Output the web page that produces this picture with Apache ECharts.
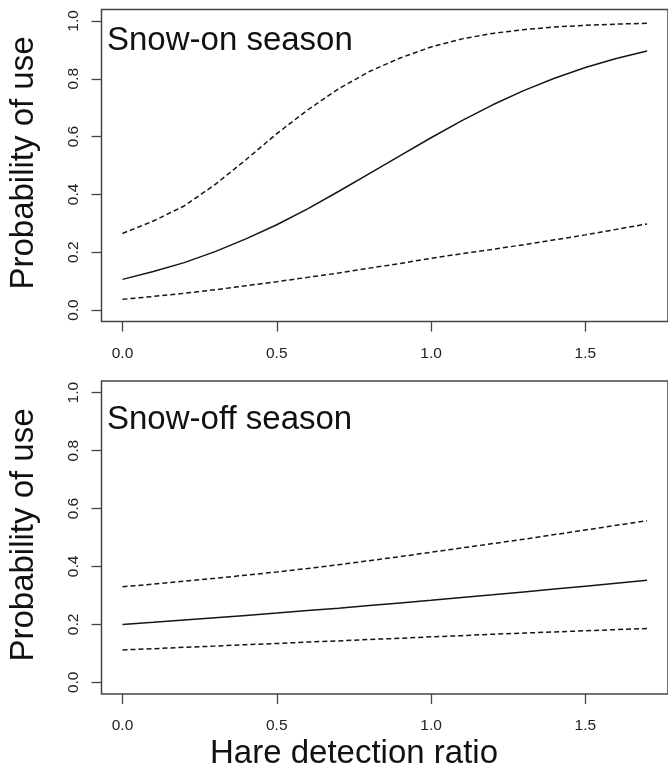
<!DOCTYPE html>
<html>
<head>
<meta charset="utf-8">
<script src="https://cdn.jsdelivr.net/npm/echarts@6/dist/echarts.min.js"></script>
<style>
html,body{margin:0;padding:0;background:#fff;}
#chart{width:668px;height:771px;}
</style>
</head>
<body>
<div id="chart"></div>
<script>
// Hare detection ratio (x)
var xValues = [0,0.1,0.2,0.3,0.4,0.5,0.6,0.7,0.8,0.9,1.0,1.1,1.2,1.3,1.4,1.5,1.6,1.7];
// Snow-on season
var snowOnFit   = [0.106,0.133,0.164,0.202,0.246,0.295,0.350,0.410,0.472,0.534,0.596,0.655,0.710,0.759,0.802,0.839,0.870,0.896];
var snowOnUpper = [0.265,0.308,0.360,0.434,0.520,0.610,0.692,0.765,0.825,0.872,0.910,0.938,0.957,0.970,0.979,0.985,0.989,0.992];
var snowOnLower = [0.037,0.047,0.058,0.070,0.084,0.098,0.113,0.128,0.145,0.161,0.179,0.195,0.210,0.226,0.243,0.260,0.279,0.298];
// Snow-off season
var snowOffFit   = [0.200,0.207,0.215,0.223,0.231,0.239,0.248,0.256,0.265,0.274,0.283,0.293,0.302,0.312,0.322,0.332,0.342,0.352];
var snowOffUpper = [0.330,0.339,0.349,0.359,0.370,0.381,0.393,0.406,0.420,0.434,0.449,0.464,0.479,0.494,0.510,0.526,0.542,0.558];
var snowOffLower = [0.112,0.116,0.121,0.125,0.130,0.134,0.139,0.143,0.148,0.152,0.157,0.161,0.166,0.170,0.174,0.178,0.182,0.186];
// Tick labels
var xTicks = [0, 0.5, 1.0, 1.5];
var yTicks = [0, 0.2, 0.4, 0.6, 0.8, 1.0];
var panelTitles = ['Snow-on season', 'Snow-off season'];
var yAxisTitle = 'Probability of use';
var xAxisTitle = 'Hare detection ratio';

function pairs(xs, ys){ return xs.map(function(x,i){ return [x, ys[i]]; }); }

var FONT = '"Liberation Sans", Arial, Helvetica, sans-serif';
var AX = '#444';

function xAxisDef(idx){
  return {
    type:'value', gridIndex: idx, min:-0.068, max:1.768, position:'bottom',
    axisLine:{show:false, onZero:false},
    axisTick:{show:true, inside:false, length:10, customValues:xTicks, lineStyle:{color:AX, width:1.3}},
    axisLabel:{show:true, customValues:xTicks, margin:24, fontSize:15.5, fontFamily:FONT, color:'#222',
      formatter:function(v){ return v.toFixed(1); }},
    splitLine:{show:false}
  };
}
function yAxisDef(idx){
  return {
    type:'value', gridIndex: idx, min:-0.04, max:1.04, position:'left',
    axisLine:{show:false, onZero:false},
    axisTick:{show:true, inside:false, length:10, customValues:yTicks, lineStyle:{color:AX, width:1.3}},
    axisLabel:{show:true, customValues:yTicks, rotate:90, align:'center', verticalAlign:'bottom', margin:20,
      fontSize:15.5, fontFamily:FONT, color:'#222',
      formatter:function(v){ return v.toFixed(1); }},
    splitLine:{show:false}
  };
}
function lineSeries(idx, data, dashed){
  return {
    type:'line', xAxisIndex: idx, yAxisIndex: idx, data: data,
    showSymbol:false, symbol:'none', smooth:false, silent:true,
    lineStyle:{color:'#151515', width:1.5, type: dashed ? [5,3] : 'solid'}
  };
}

var chart = echarts.init(document.getElementById('chart'), null, {renderer:'canvas'});
chart.setOption({
  animation:false,
  backgroundColor:'#fff',
  grid:[
    {left:101.5, right:-2.6, top:9.4, height:312.2, show:true, borderColor:AX, borderWidth:1.5, backgroundColor:'transparent'},
    {left:101.5, right:-2.6, top:381.1, height:312.8, show:true, borderColor:AX, borderWidth:1.5, backgroundColor:'transparent'}
  ],
  xAxis:[xAxisDef(0), xAxisDef(1)],
  yAxis:[yAxisDef(0), yAxisDef(1)],
  series:[
    lineSeries(0, pairs(xValues, snowOnUpper), true),
    lineSeries(0, pairs(xValues, snowOnFit), false),
    lineSeries(0, pairs(xValues, snowOnLower), true),
    lineSeries(1, pairs(xValues, snowOffUpper), true),
    lineSeries(1, pairs(xValues, snowOffFit), false),
    lineSeries(1, pairs(xValues, snowOffLower), true)
  ],
  graphic:[
    {type:'text', x:107, y:41, style:{text:panelTitles[0], font:'33px '+FONT, fill:'#111', textAlign:'left', textVerticalAlign:'middle'}},
    {type:'text', x:107, y:420, style:{text:panelTitles[1], font:'33px '+FONT, fill:'#111', textAlign:'left', textVerticalAlign:'middle'}},
    {type:'text', x:24, y:163, rotation:Math.PI/2, style:{text:yAxisTitle, font:'33px '+FONT, fill:'#111', textAlign:'center', textVerticalAlign:'middle'}},
    {type:'text', x:24, y:535, rotation:Math.PI/2, style:{text:yAxisTitle, font:'33px '+FONT, fill:'#111', textAlign:'center', textVerticalAlign:'middle'}},
    {type:'text', x:354, y:754, style:{text:xAxisTitle, font:'33px '+FONT, fill:'#111', textAlign:'center', textVerticalAlign:'middle'}}
  ]
});
</script>
</body>
</html>
